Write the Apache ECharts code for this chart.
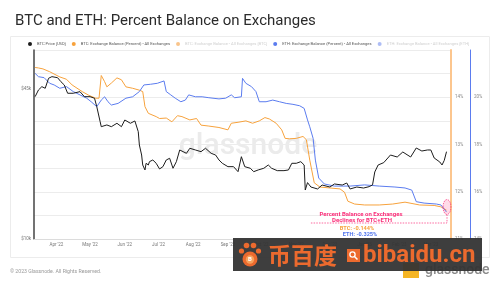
<!DOCTYPE html>
<html><head><meta charset="utf-8">
<style>html,body{margin:0;padding:0;background:#fff}#c{width:500px;height:288px}</style>
<script src="https://cdn.jsdelivr.net/npm/echarts@6/dist/echarts.min.js"></script>
</head><body><div id="c"></div>
<script>
const seriesNames = [
  'BTC Price [USD]',
  'BTC: Exchange Balance (Percent) - All Exchanges',
  'BTC: Exchange Balance - All Exchanges [BTC]',
  'ETH: Exchange Balance (Percent) - All Exchanges',
  'ETH: Exchange Balance - All Exchanges [ETH]'
];
const priceTicks = [10000, 45000];
const btcPctTicks = [11, 12, 13, 14];
const ethPctTicks = [14, 16, 18, 20];

const btcPrice = [
['2022-03-13',41650],['2022-03-16',44550],['2022-03-19',46050],['2022-03-22',45310],['2022-03-25',50090],
['2022-03-28',50900],['2022-04-02',50390],['2022-04-05',48410],['2022-04-08',46840],['2022-04-11',43100],
['2022-04-16',43100],['2022-04-22',43800],['2022-04-26',41650],['2022-05-01',41650],['2022-05-05',40990],
['2022-05-07',37680],['2022-05-10',32420],['2022-05-11',30830],['2022-05-16',31370],['2022-05-20',30830],
['2022-05-25',31900],['2022-05-29',30830],['2022-06-01',32970],['2022-06-06',31900],['2022-06-10',32650],
['2022-06-13',29330],['2022-06-14',25660],['2022-06-16',23210],['2022-06-17',21000],['2022-06-19',19980],
['2022-06-20',21360],['2022-06-22',21000],['2022-06-23',21710],['2022-06-26',22080],['2022-06-29',21360],
['2022-07-02',20180],['2022-07-05',20650],['2022-07-08',22080],['2022-07-11',22460],['2022-07-14',20320],
['2022-07-17',21710],['2022-07-20',24410],['2022-07-23',24000],['2022-07-26',23610],['2022-07-29',24830],
['2022-08-03',24410],['2022-08-08',24000],['2022-08-12',24830],['2022-08-17',23610],['2022-08-21',23210],
['2022-08-24',22080],['2022-08-27',21360],['2022-09-01',20650],['2022-09-06',20650],['2022-09-10',19640],
['2022-09-13',22820],['2022-09-16',20650],['2022-09-21',20320],['2022-09-24',19640],['2022-09-28',19980],
['2022-10-03',20320],['2022-10-07',21000],['2022-10-10',20320],['2022-10-15',19840],['2022-10-21',19840],
['2022-10-25',19980],['2022-10-28',21360],['2022-11-01',21360],['2022-11-05',21710],['2022-11-08',21000],
['2022-11-09',16340],['2022-11-11',17600],['2022-11-14',16840],['2022-11-20',16510],['2022-11-24',17180],
['2022-12-01',16840],['2022-12-05',17360],['2022-12-12',17180],['2022-12-16',17530],['2022-12-19',16510],
['2022-12-25',16840],['2022-12-31',16670],['2023-01-05',16900],['2023-01-08',17200],['2023-01-10',19580],
['2023-01-13',21000],['2023-01-18',21500],['2023-01-24',23210],['2023-01-30',22750],['2023-02-04',23920],
['2023-02-11',22750],['2023-02-16',24900],['2023-02-21',24160],['2023-02-26',24410],['2023-03-01',24410],
['2023-03-04',22530],['2023-03-09',21640],['2023-03-11',21000],['2023-03-13',22000],['2023-03-15',24000]
];

const btcBalancePct = [
['2022-03-13',14.63],['2022-03-16',14.62],['2022-03-20',14.60],['2022-03-26',14.54],['2022-04-04',14.43],
['2022-04-10',14.38],['2022-04-15',14.26],['2022-04-24',14.12],['2022-04-30',14.04],['2022-05-06',13.98],
['2022-05-09',13.98],['2022-05-11',14.46],['2022-05-14',14.33],['2022-05-16',14.22],['2022-05-20',14.30],
['2022-05-25',14.41],['2022-05-29',14.37],['2022-06-02',14.22],['2022-06-08',14.19],['2022-06-14',14.15],
['2022-06-17',14.12],['2022-06-19',13.80],['2022-06-22',13.66],['2022-06-29',13.59],['2022-07-02',13.55],
['2022-07-08',13.56],['2022-07-13',13.48],['2022-07-18',13.61],['2022-07-22',13.59],['2022-07-29',13.52],
['2022-08-04',13.55],['2022-08-08',13.41],['2022-08-15',13.39],['2022-08-24',13.36],['2022-09-01',13.31],
['2022-09-04',13.45],['2022-09-10',13.47],['2022-09-17',13.50],['2022-09-23',13.45],['2022-09-29',13.50],
['2022-10-04',13.57],['2022-10-08',13.54],['2022-10-14',13.45],['2022-10-19',13.31],['2022-10-22',13.13],
['2022-10-26',13.12],['2022-11-01',13.13],['2022-11-07',13.17],['2022-11-10',13.10],['2022-11-13',12.67],
['2022-11-17',12.19],['2022-11-22',12.10],['2022-12-01',12.08],['2022-12-10',12.06],['2022-12-14',11.99],
['2022-12-17',11.80],['2022-12-23',11.74],['2023-01-01',11.72],['2023-01-14',11.72],['2023-01-26',11.74],
['2023-02-06',11.78],['2023-02-19',11.72],['2023-03-04',11.71],['2023-03-10',11.68],['2023-03-15',11.61]
];

const ethBalancePct = [
['2022-03-13',21.01],['2022-03-16',20.87],['2022-03-21',20.83],['2022-03-26',20.59],['2022-03-30',20.52],
['2022-04-04',20.38],['2022-04-10',20.45],['2022-04-16',20.24],['2022-04-22',20.10],['2022-04-28',19.96],
['2022-05-02',19.81],['2022-05-07',19.60],['2022-05-11',19.88],['2022-05-14',20.02],['2022-05-17',19.81],
['2022-05-20',19.67],['2022-05-26',19.74],['2022-06-02',19.96],['2022-06-08',20.02],['2022-06-14',20.24],
['2022-06-18',20.52],['2022-06-24',20.55],['2022-06-30',20.59],['2022-07-06',20.69],['2022-07-08',20.24],
['2022-07-12',20.10],['2022-07-16',19.96],['2022-07-21',19.81],['2022-07-25',19.88],['2022-07-28',20.10],
['2022-08-03',20.02],['2022-08-09',20.02],['2022-08-15',19.98],['2022-08-24',19.93],['2022-08-30',19.96],
['2022-09-04',20.10],['2022-09-07',19.98],['2022-09-13',20.02],['2022-09-14',20.80],['2022-09-17',20.59],
['2022-09-22',20.45],['2022-09-26',20.24],['2022-09-29',19.81],['2022-10-05',19.81],['2022-10-11',19.88],
['2022-10-17',19.81],['2022-10-23',19.74],['2022-10-29',19.70],['2022-11-04',19.64],['2022-11-08',19.53],
['2022-11-11',19.04],['2022-11-13',18.75],['2022-11-16',18.26],['2022-11-18',17.34],['2022-11-21',16.58],
['2022-11-26',16.33],['2022-12-05',16.24],['2022-12-19',16.24],['2023-01-01',16.29],['2023-01-14',16.24],
['2023-01-28',16.20],['2023-02-06',16.16],['2023-02-12',16.07],['2023-02-16',15.58],['2023-02-23',15.52],
['2023-03-06',15.48],['2023-03-10',15.44],['2023-03-15',15.14]
];

const MONTHS = ['Jan','Feb','Mar','Apr','May','Jun','Jul','Aug','Sep','Oct','Nov','Dec'];
const FONT = 'Roboto, "Noto Sans", sans-serif';
const C_BTC = '#1c1c1c', C_BAL = '#f7a23c', C_ETH = '#5b7cef', PINK = '#fa2d78';
const DAY = 86400000;

const chart = echarts.init(document.getElementById('c'));
const option = {
  animation: false,
  textStyle: { fontFamily: FONT },
  title: { text: 'BTC and ETH: Percent Balance on Exchanges', left: 10, top: 9,
    textStyle: { fontSize: 15, fontWeight: 'normal', color: '#2b2b2b', fontFamily: FONT } },
  legend: {
    left: 28, top: 42, width: 470, itemWidth: 4, itemHeight: 4, itemGap: 6, padding: 0, icon: 'circle',
    textStyle: { fontSize: 4.1, color: '#555' },
    data: [
      { name: seriesNames[0] },
      { name: seriesNames[1] },
      { name: seriesNames[2], itemStyle: { color: '#f9c48a' }, textStyle: { color: '#d0d0d0' } },
      { name: seriesNames[3] },
      { name: seriesNames[4], itemStyle: { color: '#aebdf5' }, textStyle: { color: '#d0d0d0' } }
    ]
  },
  grid: { left: 34, right: 49, top: 50, bottom: 49 },
  xAxis: {
    type: 'time', min: '2022-03-12', max: '2023-03-19',
    minInterval: 28 * DAY, maxInterval: 31 * DAY, splitNumber: 12,
    axisLine: { lineStyle: { color: '#dcdcdc' } },
    axisTick: { show: false }, splitLine: { show: false },
    axisLabel: { fontSize: 4.5, color: '#777', margin: 3, hideOverlap: false,
      formatter: v => { const d = new Date(v); return MONTHS[d.getMonth()] + " '" + String(d.getFullYear()).slice(2); } }
  },
  yAxis: [
    { type: 'log', min: 10000, max: 66500, position: 'left',
      axisLine: { show: true, lineStyle: { color: '#444', width: 1.5 } },
      axisTick: { show: false }, axisLabel: { show: false }, splitLine: { show: false } },
    { type: 'value', min: 4, max: Math.log10(66500), position: 'left',
      axisLine: { show: false }, axisTick: { show: false }, splitLine: { show: false },
      axisLabel: { customValues: priceTicks.map(Math.log10), fontSize: 4.5, color: '#777', margin: 3,
        formatter: v => '$' + Math.round(Math.pow(10, v) / 1000) + 'k' } },
    { type: 'value', min: 11, max: 15, interval: 0.5, position: 'right',
      axisLine: { show: true, lineStyle: { color: '#fcc68e', width: 2 } },
      axisTick: { show: false },
      splitLine: { show: true, lineStyle: { color: '#ececec', width: 1 } },
      axisLabel: { fontSize: 4.5, color: '#888', margin: 4,
        formatter: v => btcPctTicks.includes(v) ? v + '%' : '' } },
    { type: 'value', min: 14, max: 22, interval: 1, position: 'right', offset: 19,
      axisLine: { show: true, lineStyle: { color: '#5b7cef', width: 1 } },
      axisTick: { show: false }, splitLine: { show: false },
      axisLabel: { fontSize: 4.5, color: '#888', margin: 4,
        formatter: v => ethPctTicks.includes(v) ? v + '%' : '' } }
  ],
  series: [
    { name: seriesNames[1], type: 'line', yAxisIndex: 2, data: btcBalancePct, symbol: 'none', color: C_BAL, lineStyle: { width: 1 }, z: 3 },
    { name: seriesNames[2], type: 'line', yAxisIndex: 2, data: [], symbol: 'none', color: '#f9c48a' },
    { name: seriesNames[3], type: 'line', yAxisIndex: 3, data: ethBalancePct, symbol: 'none', color: C_ETH, lineStyle: { width: 1 }, z: 3 },
    { name: seriesNames[4], type: 'line', yAxisIndex: 3, data: [], symbol: 'none', color: '#aebdf5' },
    { name: seriesNames[0], type: 'line', yAxisIndex: 0, data: btcPrice, symbol: 'none', color: C_BTC, lineStyle: { width: 1 }, z: 4 }
  ],
  graphic: [
    { type: 'rect', z: -10, shape: { x: 10.5, y: 36.5, width: 479, height: 221 }, style: { fill: 'none', stroke: '#ececec', lineWidth: 1 } },
    { type: 'text', z: -5, style: { text: 'glassnode', x: 248, y: 146, align: 'center', verticalAlign: 'middle', font: '500 30px Roboto', fill: '#ebebeb' } },
    { type: 'text', style: { text: '\u00a9 2023 Glassnode. All Rights Reserved.', x: 10, y: 272, verticalAlign: 'middle', font: '5.2px Roboto', fill: '#999' } },
    { type: 'ellipse', z: 50, shape: { cx: 447, cy: 207, rx: 4, ry: 7.5 }, style: { fill: 'rgba(255,90,150,0.22)', stroke: PINK, lineWidth: 0.7, lineDash: [1.5, 1] } },
    { type: 'polyline', z: 50, shape: { points: [[447, 214.5], [447, 223], [310, 223]] }, style: { stroke: PINK, lineWidth: 0.7, lineDash: [1.5, 1.2], fill: 'none' } },
    { type: 'text', z: 50, style: { text: 'Percent Balance on Exchanges', x: 361, y: 214, align: 'center', verticalAlign: 'middle', font: 'bold 6px Roboto', fill: PINK } },
    { type: 'text', z: 50, style: { text: 'Declines for BTC+ETH', x: 362, y: 220, align: 'center', verticalAlign: 'middle', font: 'bold 6px Roboto', fill: PINK } },
    { type: 'text', z: 50, style: { text: 'BTC: -0.144%', x: 357, y: 228.5, align: 'center', verticalAlign: 'middle', font: 'bold 5.6px Roboto', fill: '#f7a23c' } },
    { type: 'text', z: 50, style: { text: 'ETH: -0.325%', x: 360, y: 234.5, align: 'center', verticalAlign: 'middle', font: 'bold 5.6px Roboto', fill: '#4f74ee' } },
    { type: 'rect', z: 60, shape: { x: 403, y: 263, width: 16, height: 15 }, style: { fill: '#f5b524' } },
    { type: 'text', z: 60, style: { text: 'glassnode', x: 425, y: 270, verticalAlign: 'middle', font: '500 14px Roboto', fill: '#8a8a8a' } },
    { type: 'rect', z: 100, shape: { x: 233, y: 238, width: 249, height: 33 }, style: { fill: 'rgba(52,52,52,0.95)' } },
    { type: 'circle', z: 101, shape: { cx: 250, cy: 259, r: 7.5 }, style: { fill: '#ec6a2e' } },
    { type: 'circle', z: 101, shape: { cx: 241.5, cy: 251, r: 2.6 }, style: { fill: '#ec6a2e' } },
    { type: 'circle', z: 101, shape: { cx: 246.5, cy: 245.5, r: 2.8 }, style: { fill: '#ec6a2e' } },
    { type: 'circle', z: 101, shape: { cx: 253.5, cy: 245.5, r: 2.8 }, style: { fill: '#ec6a2e' } },
    { type: 'circle', z: 101, shape: { cx: 258.5, cy: 251, r: 2.6 }, style: { fill: '#ec6a2e' } },
    { type: 'circle', z: 102, shape: { cx: 250, cy: 259.5, r: 4.2 }, style: { fill: '#f7a25c' } },
    { type: 'text', z: 103, style: { text: 'B', x: 250, y: 259.5, align: 'center', verticalAlign: 'middle', font: 'bold 6px Roboto', fill: '#fff' } },
    { type: 'text', z: 101, style: { text: '币百度', x: 268, y: 255, verticalAlign: 'middle', font: 'bold 23px "Noto Sans CJK SC"', fill: '#ec6a2e' } },
    { type: 'rect', z: 101, shape: { x: 347, y: 249, width: 13, height: 13 }, style: { fill: '#ec6a2e' } },
    { type: 'circle', z: 102, shape: { cx: 352.5, cy: 254.5, r: 2.6 }, style: { fill: 'none', stroke: '#fff', lineWidth: 1.3 } },
    { type: 'line', z: 102, shape: { x1: 354.5, y1: 256.5, x2: 357.5, y2: 259.5 }, style: { stroke: '#fff', lineWidth: 1.5 } },
    { type: 'text', z: 101, style: { text: 'bibaidu.cn', x: 363, y: 256, verticalAlign: 'middle', font: 'bold 24px Roboto', fill: '#ec6a2e' } }
  ]
};
chart.setOption(option);
</script></body></html>
